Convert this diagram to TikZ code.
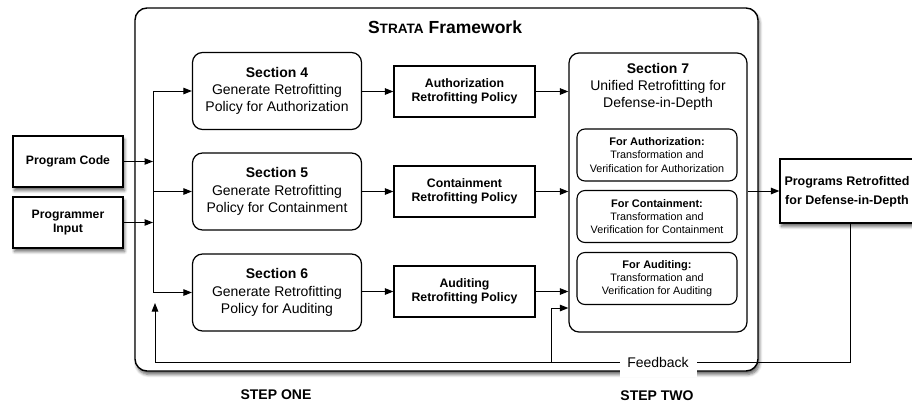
\documentclass[tikz,border=0pt]{standalone}
\usepackage{fontspec}
\setmainfont{Liberation Sans}
\usetikzlibrary{arrows.meta,shadows.blur,calc}
\begin{document}
\begin{tikzpicture}[x=1pt,y=-1pt,
 arr/.style={-{Triangle[length=8.5pt,width=6.5pt]}, line width=1pt},
 ln/.style={line width=1pt},
 secbox/.style={draw, line width=1.2pt, rounded corners=10pt, minimum width=169pt, minimum height=77pt, align=center, inner sep=0pt, font=\fontsize{14}{17.3}\selectfont},
 polbox/.style={draw, line width=1.2pt, minimum width=141pt, minimum height=51pt, align=center, inner sep=0pt, font=\bfseries\fontsize{12.3}{14}\selectfont},
 subbox/.style={draw, line width=1.1pt, rounded corners=8pt, minimum width=160pt, minimum height=52pt, align=center, inner sep=0pt, font=\fontsize{10.8}{13.3}\selectfont},
 shbox/.style={draw, line width=1.2pt, fill=white, align=center, inner sep=0pt, blur shadow={shadow xshift=1.5pt, shadow yshift=-3.5pt, shadow blur steps=6, shadow blur radius=3pt, shadow opacity=60}},
 steplabel/.style={font=\bfseries\fontsize{14}{14}\selectfont}
]
\useasboundingbox (0,0) rectangle (912,407);
% framework frame
\node[shbox, line width=1.4pt, rounded corners=12pt, minimum width=623pt, minimum height=363pt] (fw) at (446.5,189.5) {};
\node[font=\bfseries\fontsize{17.5}{17.5}\selectfont] (title) at (445,27) {S{\fontsize{13.6}{13.6}\selectfont TRATA} Framework};

% inputs
\node[shbox, minimum width=110pt, minimum height=51pt, font=\bfseries\fontsize{12.2}{13.3}\selectfont] (pc) at (68,161.5) {Program Code};
\node[shbox, minimum width=110pt, minimum height=51pt, font=\bfseries\fontsize{12.2}{13.3}\selectfont] (pi) at (68,222.5) {Programmer\\Input};

% sections
\node[secbox] (s4) at (277,91) {\textbf{Section 4}\\Generate Retrofitting\\Policy for Authorization};
\node[secbox] (s5) at (277,191.5) {\textbf{Section 5}\\Generate Retrofitting\\Policy for Containment};
\node[secbox] (s6) at (277,292.5) {\textbf{Section 6}\\Generate Retrofitting\\Policy for Auditing};

% policies
\node[polbox] (p4) at (464.5,91.5) {Authorization\\Retrofitting Policy};
\node[polbox] (p5) at (464.5,191.5) {Containment\\Retrofitting Policy};
\node[polbox] (p6) at (464.5,291.5) {Auditing\\Retrofitting Policy};

% section 7
\node[draw, line width=1.2pt, rounded corners=10pt, minimum width=178pt, minimum height=279pt, inner sep=0pt] (s7) at (658,192.5) {};
\node[align=center, inner sep=0pt, font=\fontsize{14}{17.3}\selectfont] (s7t) at (658,87) {\textbf{Section 7}\\Unified Retrofitting for\\Defense-in-Depth};
\node[subbox] (u1) at (657,155) {\textbf{\fontsize{11}{13.3}\selectfont For Authorization:}\\Transformation and\\Verification for Authorization};
\node[subbox] (u2) at (657,216.5) {\textbf{\fontsize{11}{13.3}\selectfont For Containment:}\\Transformation and\\Verification for Containment};
\node[subbox] (u3) at (657,278.5) {\textbf{\fontsize{11}{13.3}\selectfont For Auditing:}\\Transformation and\\Verification for Auditing};

% output (box runs past the right edge of the picture)
\node[shbox, minimum width=160pt, minimum height=64pt, font=\bfseries\fontsize{12.5}{18.7}\selectfont] (out) at (860,191) {\begin{tabular}{@{}c@{}}Programs Retrofitted\\for Defense-in-Depth\end{tabular}\hspace*{26pt}};

% bus
\coordinate (bt) at (153,91);
\coordinate (bm) at (153,191.5);
\coordinate (bb) at (153,292.5);
\draw[ln] (bt) -- (bb);
\draw[arr] (pc.east) -- (pc.east -| bt);
\draw[arr] (pi.east) -- (pi.east -| bt);
\draw[arr] (bt) -- (s4.west);
\draw[arr] (bm) -- (s5.west);
\draw[arr] (bb) -- (s6.west);

% section -> policy -> section 7
\draw[arr] (s4.east |- p4) -- (p4.west);
\draw[arr] (s5.east |- p5) -- (p5.west);
\draw[arr] (s6.east |- p6) -- (p6.west);
\draw[arr] (p4.east) -- (p4.east -| s7.west);
\draw[arr] (p5.east) -- (p5.east -| s7.west);
\draw[arr] (p6.east) -- (p6.east -| s7.west);

% section 7 -> output
\draw[arr] (out.west -| s7.east) -- (out.west);

% feedback
\coordinate (f1) at (850,362);
\coordinate (f2) at (155,362);
\coordinate (f3) at (155,303);
\coordinate (f4) at (551,362);
\coordinate (f5) at (551,308);
\draw[arr] (out.south -| f1) -- (f1) -- (f2) -- (f3);
\draw[arr] (f4) -- (f5) -- (f5 -| s7.west);
\node[fill=white, minimum width=77pt, minimum height=30pt, inner sep=0pt, font=\fontsize{14}{14}\selectfont] (fb) at (658,362) {Feedback};

% step labels
\node[steplabel] (st1) at (276,395) {STEP ONE};
\node[steplabel] (st2) at (657,396) {STEP TWO};
\end{tikzpicture}
\end{document}
